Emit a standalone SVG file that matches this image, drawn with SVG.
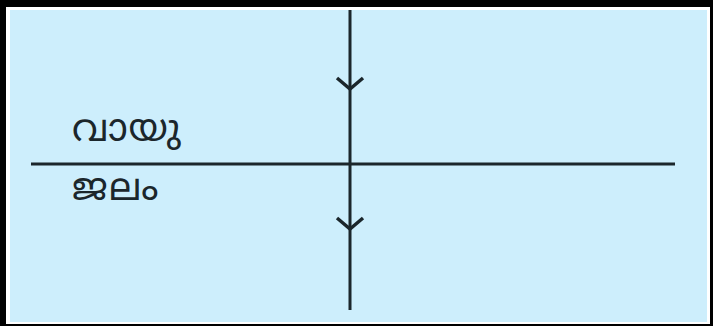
<svg xmlns="http://www.w3.org/2000/svg" width="713" height="326" viewBox="0 0 713 326">
<style>
.ln{stroke:#1b262b;stroke-width:3;fill:none;stroke-linecap:butt}
.ah{stroke:#1b262b;stroke-width:3.5;fill:none;stroke-linejoin:miter}
.lbl{font-family:"Noto Sans Malayalam","Noto Sans","DejaVu Sans",sans-serif;font-size:38px;letter-spacing:1px;fill:#1b262b}
</style>
<rect x="0" y="0" width="713" height="326" fill="#000"/>
<rect x="6" y="7" width="704" height="317" fill="#fff"/>
<rect x="10" y="10" width="697" height="312" fill="#cdeefc"/>
<g id="connectors">
<line class="ln" x1="350" y1="10" x2="350" y2="310"/>
<line class="ln" x1="31" y1="164" x2="675" y2="164"/>
<polyline class="ah" points="337,78 350,89 363,78"/>
<polyline class="ah" points="337,218 350,229 363,218"/>
</g>
<g id="air"><text class="lbl" x="72" y="141">വായു</text></g>
<g id="water"><text class="lbl" x="72" y="200">ജലം</text></g>
</svg>
